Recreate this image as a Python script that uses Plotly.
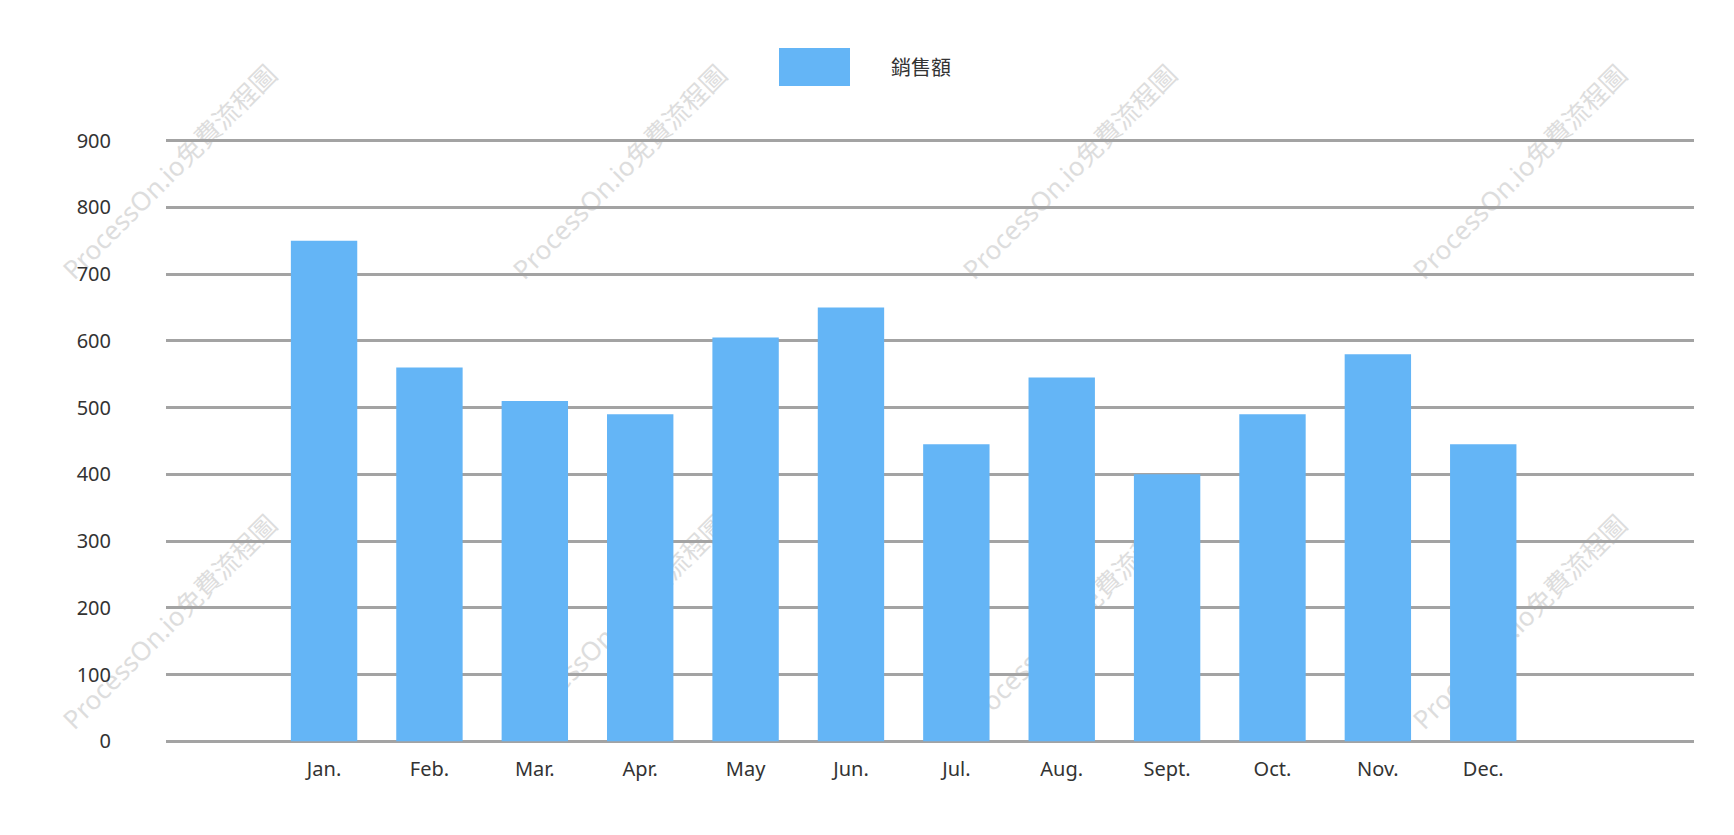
import plotly.graph_objects as go

# ---- data ----
series_name = "銷售額"
months = ["Jan.", "Feb.", "Mar.", "Apr.", "May", "Jun.", "Jul.", "Aug.", "Sept.", "Oct.", "Nov.", "Dec."]
sales = [750, 560, 510, 490, 605, 650, 445, 545, 400, 490, 580, 445]
y_ticks = [0, 100, 200, 300, 400, 500, 600, 700, 800, 900]
watermark_text = "ProcessOn.io免費流程圖"

# ---- layout geometry (pixels) ----
W, H = 1734, 835
L, R, T, B = 166, 1694, 134, 748
BAR_COLOR = "#64b5f6"
FONT = "Noto Sans, Noto Sans CJK TC, Open Sans, sans-serif"


def px_x(px):
    return (px - L) / (R - L)


def px_y(py):
    return (B - py) / (B - T)


fig = go.Figure()
fig.add_trace(go.Bar(
    x=list(range(len(months))),
    y=sales,
    name=series_name,
    marker=dict(color=BAR_COLOR, line=dict(width=0)),
    width=0.63,
    showlegend=False,
))

shapes = []
annotations = []

# watermark (behind everything)
wm_centers_x = [171, 621, 1071, 1521]
wm_centers_y = [173, 623]
for cy in wm_centers_y:
    for cx in wm_centers_x:
        shapes.append(dict(
            type="rect", xref="paper", yref="paper",
            x0=px_x(cx - 160), x1=px_x(cx + 160),
            y0=px_y(cy + 160), y1=px_y(cy - 160),
            line=dict(width=0), fillcolor="rgba(0,0,0,0)",
            layer="below",
            label=dict(text=watermark_text, textangle=-45,
                       textposition="middle center",
                       font=dict(size=26, color="#dddddd", family=FONT)),
        ))

# legend swatch + text
shapes.append(dict(
    type="rect", xref="paper", yref="paper",
    x0=px_x(779), x1=px_x(850), y0=px_y(86), y1=px_y(48),
    line=dict(width=0), fillcolor=BAR_COLOR, layer="above",
))
annotations.append(dict(
    xref="paper", yref="paper", x=px_x(889), y=px_y(68),
    xanchor="left", yanchor="middle", showarrow=False,
    text=series_name, font=dict(size=20, color="#333333", family=FONT),
))

fig.update_layout(
    width=W, height=H,
    margin=dict(l=L, r=W - R, t=T, b=H - B, pad=0),
    paper_bgcolor="white",
    plot_bgcolor="rgba(0,0,0,0)",
    font=dict(family=FONT, size=20, color="#333333"),
    shapes=shapes,
    annotations=annotations,
    bargap=0.37,
    xaxis=dict(
        range=[-1.5, 13],
        tickmode="array",
        tickvals=list(range(len(months))),
        ticktext=months,
        showgrid=False, zeroline=False, showline=False,
        ticks="", ticklabelstandoff=7,
        tickfont=dict(size=20, color="#333333"),
        fixedrange=True,
    ),
    yaxis=dict(
        range=[-10, 910],
        tickmode="array",
        tickvals=y_ticks,
        ticktext=[str(v) for v in y_ticks],
        showgrid=True, gridcolor="#a3a3a3", gridwidth=2.5,
        zeroline=False, showline=False,
        ticks="", ticklabelstandoff=54,
        tickfont=dict(size=20, color="#333333"),
        fixedrange=True,
    ),
)

fig.write_html("out.html")
